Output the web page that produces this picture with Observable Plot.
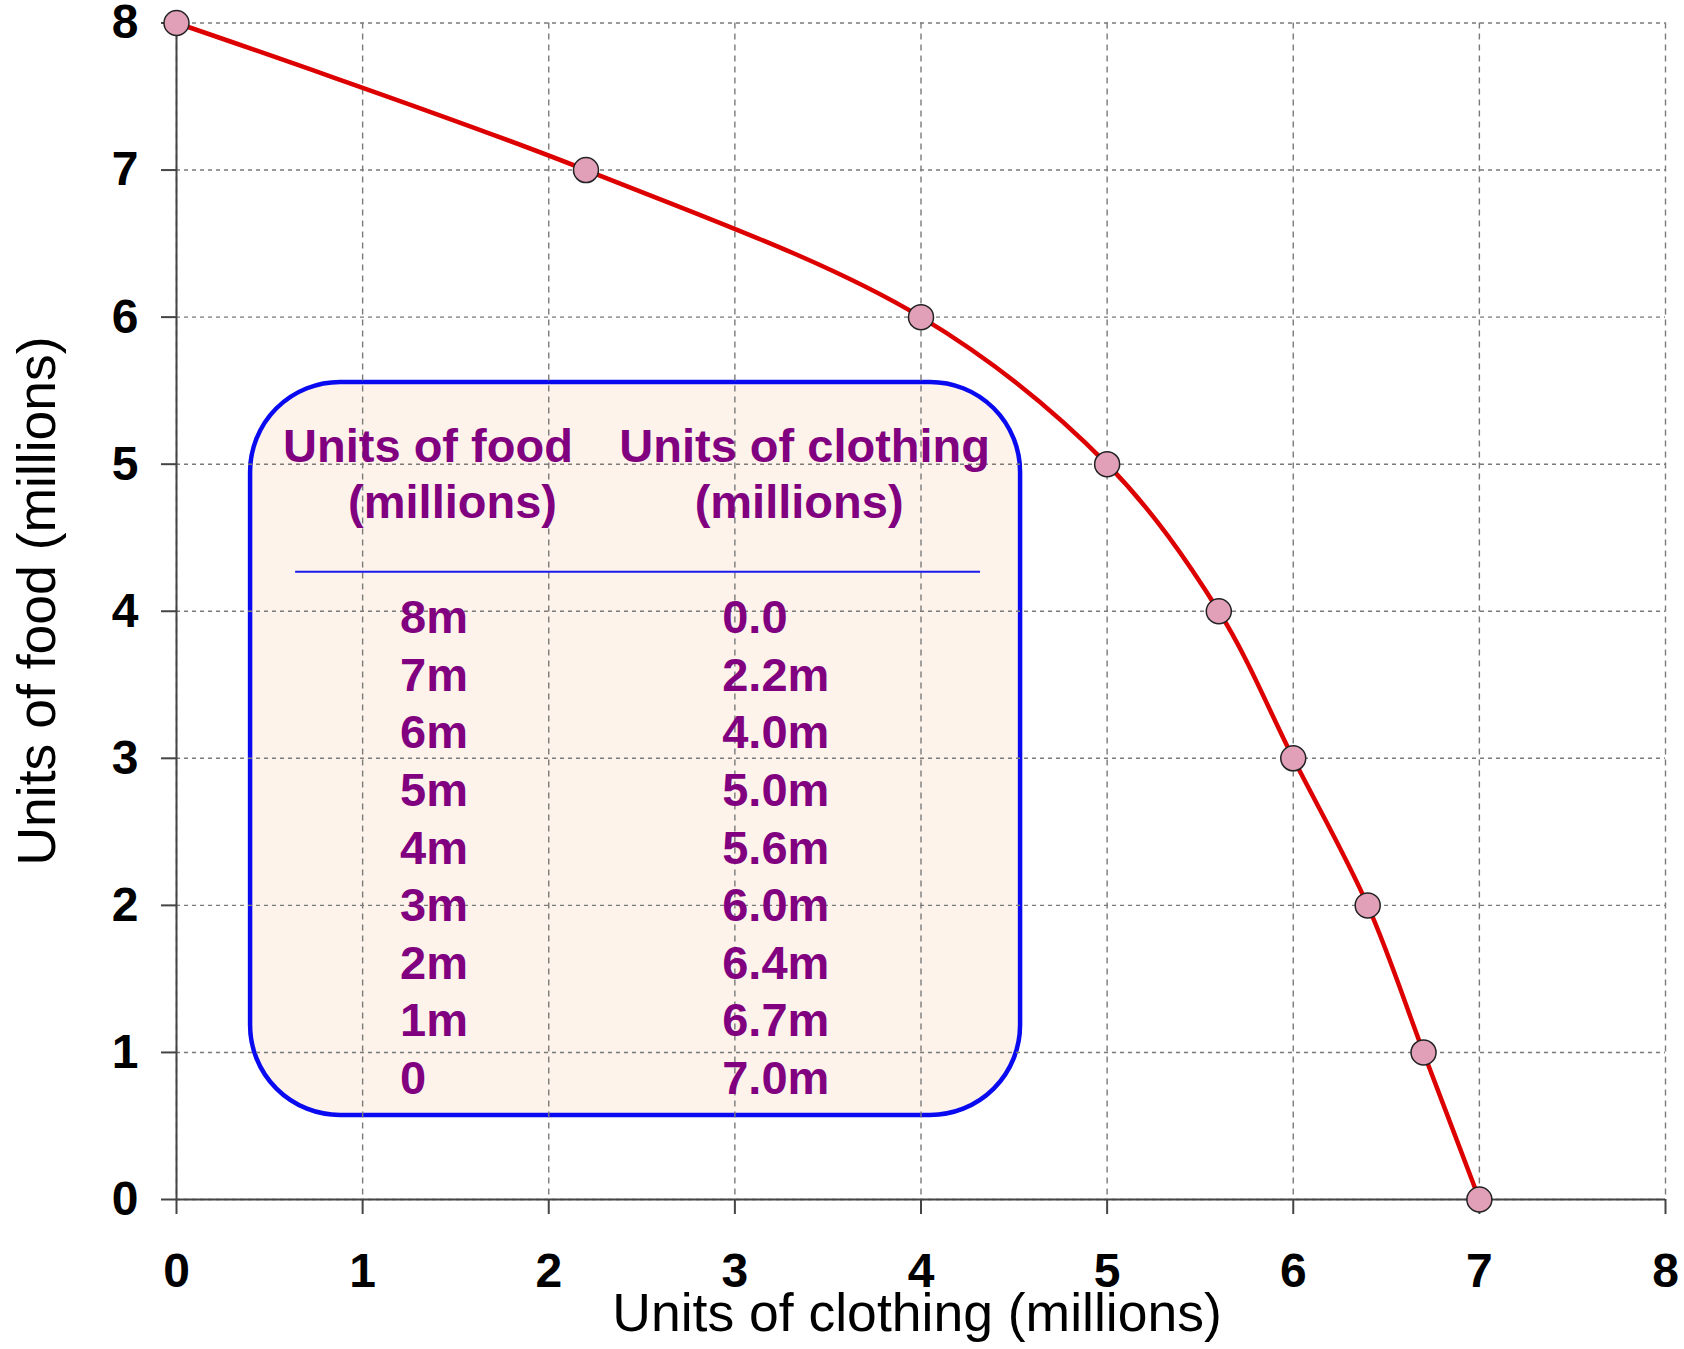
<!DOCTYPE html>
<html>
<head>
<meta charset="utf-8">
<script src="https://cdn.jsdelivr.net/npm/d3@7"></script>
<script src="https://cdn.jsdelivr.net/npm/@observablehq/plot@0.6"></script>
<style>
  html, body { margin: 0; padding: 0; background: #ffffff; }
  #chart svg { display: block; }
</style>
</head>
<body>
<div id="chart"></div>
<script>
// ---- data ----
const foodMillions = [8, 7, 6, 5, 4, 3, 2, 1, 0];
const clothingMillions = [0, 2.2, 4.0, 5.0, 5.6, 6.0, 6.4, 6.7, 7.0];
const axisTicks = [0, 1, 2, 3, 4, 5, 6, 7, 8];
const xTitle = "Units of clothing (millions)";
const yTitle = "Units of food (millions)";
const tableHeaders = [["Units of food", "(millions)"], ["Units of clothing", "(millions)"]];

// ---- derived ----
const points = foodMillions.map((f, i) => ({ food: f, clothing: clothingMillions[i] }));
const foodLabel = v => v === 0 ? "0" : `${v}m`;
const clothLabel = v => v === 0 ? "0.0" : `${v.toFixed(1)}m`;

// ---- layout (annotation positions in chart units) ----
const box = { x1: 0.398, x2: 4.535, y1: 0.571, y2: 5.556 };
const headerY = [5.12, 4.735];
const headerX = [[1.351, 1.483], [3.375, 3.345]];
const ruleLine = { x1: 0.64, x2: 4.32, y: 4.268 };
const rowY0 = 3.953, rowStep = 0.3915;
const colX = [1.201, 2.932];

const purple = "#800080";
const tableFont = "'Liberation Sans', Arial, sans-serif";
const tickFont = "'Liberation Sans Narrow', 'Arial Narrow', 'Liberation Sans', sans-serif";

const rows = points.map((p, i) => ({ ...p, ty: rowY0 - i * rowStep }));
const headers = [];
tableHeaders.forEach((h, c) => h.forEach((t, l) => headers.push({ t, x: headerX[c][l], y: headerY[l] })));

const chart = Plot.plot({
  width: 1684,
  height: 1349,
  marginLeft: 176,
  marginRight: 19,
  marginTop: 22.5,
  marginBottom: 150,
  x: { domain: [0, 8] },
  y: { domain: [0, 8] },
  style: { background: "#ffffff", fontFamily: "'Liberation Sans', Arial, sans-serif", overflow: "visible" },
  marks: [
    Plot.rect([box], { x1: "x1", x2: "x2", y1: "y1", y2: "y2", rx: 90, fill: "#fdf3ea", stroke: "#0a0af0", strokeWidth: 4.5 }),
    Plot.gridX(axisTicks, { stroke: "#7a7a7a", strokeOpacity: 1, strokeWidth: 1.4, strokeDasharray: "6,5" }),
    Plot.gridY(axisTicks, { stroke: "#7a7a7a", strokeOpacity: 1, strokeWidth: 1.4, strokeDasharray: "4,4" }),
    Plot.ruleY([0], { stroke: "#444444", strokeWidth: 2 }),
    Plot.ruleX([0], { stroke: "#444444", strokeWidth: 2 }),
    Plot.axisX(axisTicks, {
      tickSize: 15, tickPadding: 38, stroke: "#444444", strokeWidth: 2,
      fontSize: 48, fontWeight: "bold", fontFamily: tickFont,
      fill: "#000000", label: null, tickFormat: d => String(d)
    }),
    Plot.axisY(axisTicks, {
      tickSize: 15, tickPadding: 23, stroke: "#444444", strokeWidth: 2,
      fontSize: 48, fontWeight: "bold", fontFamily: tickFont,
      fill: "#000000", label: null, tickFormat: d => String(d)
    }),
    // table
    Plot.ruleY([ruleLine], { y: "y", x1: "x1", x2: "x2", stroke: "#1a1aee", strokeWidth: 2 }),
    Plot.text(headers, { x: "x", y: "y", text: "t", fill: purple, fontSize: 47, fontWeight: "bold", fontFamily: tableFont, textAnchor: "middle" }),
    Plot.text(rows, { x: () => colX[0], y: "ty", text: d => foodLabel(d.food), fill: purple, fontSize: 47, fontWeight: "bold", fontFamily: tableFont, textAnchor: "start" }),
    Plot.text(rows, { x: () => colX[1], y: "ty", text: d => clothLabel(d.clothing), fill: purple, fontSize: 47, fontWeight: "bold", fontFamily: tableFont, textAnchor: "start" }),
    // curve
    Plot.line(points, { x: "clothing", y: "food", curve: "catmull-rom", stroke: "#dd0000", strokeWidth: 4.5 }),
    Plot.dot(points, { x: "clothing", y: "food", r: 12.5, fill: "#e2a0b8", stroke: "#222222", strokeWidth: 1.5 }),
    // axis titles
    Plot.text([xTitle], { frameAnchor: "bottom", textAnchor: "middle", text: d => d, dy: 131, dx: -4, fontSize: 53.5, fill: "#000000" }),
    Plot.text([yTitle], { frameAnchor: "left", textAnchor: "middle", y: () => 4.07, text: d => d, rotate: -90, dx: -139, fontSize: 53.5, fill: "#000000" })
  ]
});
document.getElementById("chart").appendChild(chart);
</script>
</body>
</html>
